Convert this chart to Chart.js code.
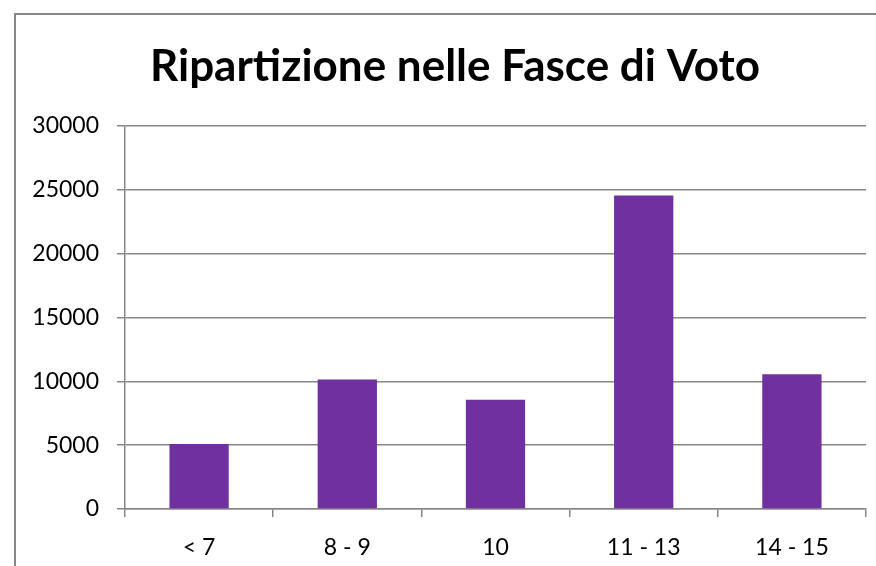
<!DOCTYPE html>
<html>
<head>
<meta charset="utf-8">
<script src="https://cdn.jsdelivr.net/npm/chart.js@4"></script>
<style>
  html, body { margin: 0; padding: 0; background: #fff; }
  #wrap { width: 876px; height: 566px; }
</style>
</head>
<body>
<div id="wrap"><canvas id="votiChart" width="876" height="566"></canvas></div>
<script>
// dati
var titolo = 'Ripartizione nelle Fasce di Voto';
var fasce = ['< 7', '8 - 9', '10', '11 - 13', '14 - 15'];
var studenti = [5100, 10150, 8550, 24550, 10550];
var yMin = 0, yMax = 30000, yStep = 5000;

var grigio = '#878787';
var viola = '#7030A0';

// bordo del riquadro e titolo, come in Excel
var cornice = {
    id: 'cornice',
    afterDraw: function (chart) {
        var c = chart.ctx;
        c.save();
        c.strokeStyle = grigio;
        c.lineWidth = 2;
        c.beginPath();
        c.moveTo(15, 566);
        c.lineTo(15, 14);
        c.lineTo(876, 14);
        c.stroke();
        c.fillStyle = '#000';
        c.font = 'bold 44px Lato';
        c.textAlign = 'center';
        c.textBaseline = 'alphabetic';
        c.fillText(titolo, 455, 81);
        c.restore();
    }
};

var ctx = document.getElementById('votiChart').getContext('2d');
var votiChart = new Chart(ctx, {
    type: 'bar',
    data: {
        labels: fasce,
        datasets: [{
            label: 'Studenti',
            data: studenti,
            backgroundColor: viola,
            borderWidth: 0,
            barPercentage: 0.4,
            categoryPercentage: 1
        }]
    },
    options: {
        responsive: false,
        animation: false,
        layout: { padding: { top: 126, right: 10, left: 0, bottom: 0 } },
        plugins: {
            legend: { display: false },
            title: { display: false },
            tooltip: { enabled: false }
        },
        scales: {
            x: {
                grid: { offset: true, drawOnChartArea: false, drawTicks: true, tickLength: 8, color: grigio, lineWidth: 1.5 },
                border: { color: grigio, width: 1.5 },
                ticks: { color: '#000', font: { family: 'Lato', size: 23 }, padding: 17 },
                afterFit: function (s) { s.height = 57; }
            },
            y: {
                min: yMin,
                max: yMax,
                grid: { color: grigio, tickLength: 8, lineWidth: 1.5 },
                border: { color: grigio, width: 1.5 },
                ticks: {
                    stepSize: yStep, color: '#000', font: { family: 'Lato', size: 23 }, padding: 18,
                    callback: function (v) { return String(v); }
                },
                afterFit: function (s) { s.width = 125; }
            }
        }
    },
    plugins: [cornice]
});
</script>
</body>
</html>
